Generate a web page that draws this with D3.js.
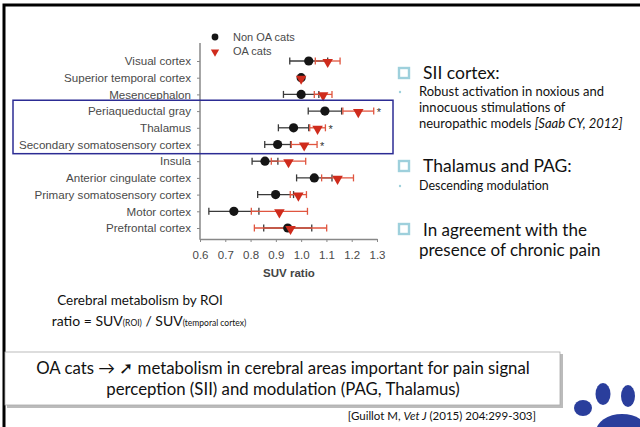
<!DOCTYPE html>
<html>
<head>
<meta charset="utf-8">
<script src="https://cdn.jsdelivr.net/npm/d3@7"></script>
<style>
  body { margin: 0; background: #fff; }
  svg { display: block; }
  .slide { font-family: Lato, "Open Sans", sans-serif; fill: #111; }
  .axis text { font-family: "Liberation Sans", Arial, sans-serif; fill: #4a4a4a; }
  .axis path, .axis line { stroke: #888; }
</style>
</head>
<body>
<svg id="chart" width="640" height="427"></svg>
<script>
// brain regions, top to bottom
const regions = [
  "Visual cortex", "Superior temporal cortex", "Mesencephalon",
  "Periaqueductal gray", "Thalamus", "Secondary somatosensory cortex",
  "Insula", "Anterior cingulate cortex", "Primary somatosensory cortex",
  "Motor cortex", "Prefrontal cortex"
];
const nonOAMean = [1.03, 1.00, 1.00, 1.094, 0.97, 0.907, 0.857, 1.052, 0.899, 0.734, 0.947];
const nonOAErr  = [0.075, 0, 0.07, 0.066, 0.06, 0.051, 0.051, 0.07, 0.071, 0.099, 0.095];
const oaMean    = [1.105, 1.00, 1.087, 1.226, 1.065, 1.012, 0.95, 1.144, 0.989, 0.914, 0.958];
const oaErr     = [0.049, 0, 0.035, 0.061, 0.031, 0.051, 0.068, 0.063, 0.032, 0.111, 0.143];
const significant = ["Periaqueductal gray", "Thalamus", "Secondary somatosensory cortex"];
const xTicks = [0.6, 0.7, 0.8, 0.9, 1.0, 1.1, 1.2, 1.3];
const seriesNames = ["Non OA cats", "OA cats"];

const svg = d3.select("#chart");

// slide frame
svg.append("path")
  .attr("d", "M4,427 V5 H640")
  .attr("fill", "none")
  .attr("stroke", "#000")
  .attr("stroke-width", 3);

const x = d3.scaleLinear().domain([0.6, 1.3]).range([200, 377]);
const y = d3.scalePoint().domain(regions).range([61, 228]);

const black = "#151515";
const blackBar = "#3a3a3a";
const red = "#cf2b1c";
const redBar = "#e0553f";

// axes
const xAxis = svg.append("g")
  .attr("class", "axis")
  .attr("transform", "translate(0,239)")
  .call(d3.axisBottom(x).tickValues(xTicks).tickFormat(d3.format(".1f")).tickSize(3).tickPadding(9).tickSizeOuter(0));
xAxis.selectAll("text").style("font-size", "11.5px");
xAxis.select(".domain").attr("stroke-width", 1.5);

const yAxis = svg.append("g")
  .attr("class", "axis")
  .attr("transform", "translate(200,0)")
  .call(d3.axisLeft(y).tickSize(3).tickPadding(6));
yAxis.select(".domain").remove();
yAxis.selectAll("text").style("font-size", "11.6px");
svg.append("line")
  .attr("x1", 200).attr("x2", 200)
  .attr("y1", 43).attr("y2", 239.75)
  .attr("stroke", "#888").attr("stroke-width", 1.5);

svg.append("text")
  .attr("x", 289).attr("y", 277)
  .attr("text-anchor", "middle")
  .style("font-family", "'Liberation Sans', Arial, sans-serif")
  .style("font-size", "11.5px")
  .style("font-weight", "bold")
  .style("fill", "#444")
  .text("SUV ratio");

// error bars
const rows = regions.map((r, i) => ({
  region: r,
  m0: nonOAMean[i], e0: nonOAErr[i],
  m1: oaMean[i], e1: oaErr[i]
}));

function drawBars(key, color) {
  const g = svg.append("g").attr("stroke", color).attr("stroke-width", 1.3);
  rows.filter(d => d["e" + key] > 0).forEach(d => {
    const lo = x(d["m" + key] - d["e" + key]);
    const hi = x(d["m" + key] + d["e" + key]);
    const yy = y(d.region);
    g.append("line").attr("x1", lo).attr("x2", hi).attr("y1", yy).attr("y2", yy);
    g.append("line").attr("x1", lo).attr("x2", lo).attr("y1", yy - 3.5).attr("y2", yy + 3.5);
    g.append("line").attr("x1", hi).attr("x2", hi).attr("y1", yy - 3.5).attr("y2", yy + 3.5);
  });
}
drawBars(0, blackBar);
drawBars(1, redBar);

svg.append("g").selectAll("circle")
  .data(rows)
  .join("circle")
  .attr("cx", d => x(d.m0))
  .attr("cy", d => y(d.region))
  .attr("r", 4.6)
  .attr("fill", black);

const tri = d3.symbol().type(d3.symbolTriangle).size(48);
svg.append("g").selectAll("path")
  .data(rows)
  .join("path")
  .attr("d", tri)
  .attr("transform", d => `translate(${x(d.m1)},${y(d.region) + 1}) rotate(180)`)
  .attr("fill", red);

// significance stars
svg.append("g").selectAll("text")
  .data(rows.filter(d => significant.includes(d.region)))
  .join("text")
  .attr("x", d => x(Math.max(d.m0 + d.e0, d.m1 + d.e1)) + 3)
  .attr("y", d => y(d.region) + 5)
  .style("font-family", "'Liberation Sans', Arial, sans-serif")
  .style("font-size", "11px")
  .style("fill", "#333")
  .text("*");

// legend
const legend = svg.append("g");
legend.append("circle").attr("cx", 215).attr("cy", 37).attr("r", 3.4).attr("fill", black);
legend.append("path").attr("d", d3.symbol().type(d3.symbolTriangle).size(30))
  .attr("transform", "translate(215,52) rotate(180)").attr("fill", red);
legend.selectAll("text")
  .data(seriesNames)
  .join("text")
  .attr("x", 233)
  .attr("y", (d, i) => 41 + i * 14)
  .style("font-family", "'Liberation Sans', Arial, sans-serif")
  .style("font-size", "11px")
  .style("fill", "#4a4a4a")
  .text(d => d);

// highlight box around significant regions
const step = y.step();
svg.append("rect")
  .attr("x", 13)
  .attr("y", y(significant[0]) - step * 0.65)
  .attr("width", 380)
  .attr("height", y(significant[2]) - y(significant[0]) + step * 1.2)
  .attr("fill", "none")
  .attr("stroke", "#2c2c94")
  .attr("stroke-width", 1.5);

// right-hand notes
const notes = svg.append("g").attr("class", "slide");
function checkbox(cx, cy) {
  notes.append("rect")
    .attr("x", cx).attr("y", cy).attr("width", 10).attr("height", 10)
    .attr("fill", "none").attr("stroke", "#9ed0dc").attr("stroke-width", 2.4);
}
function dot(cx, cy) {
  notes.append("circle").attr("cx", cx).attr("cy", cy).attr("r", 1.2).attr("fill", "#9ed0dc");
}
checkbox(399, 68);
notes.append("text").attr("x", 423).attr("y", 79).style("font-size", "17.5px").text("SII cortex:");
dot(400, 92);
notes.append("text").attr("x", 419).attr("y", 96).style("font-size", "13px").text("Robust activation in noxious and");
notes.append("text").attr("x", 419).attr("y", 112).style("font-size", "13px").text("innocuous stimulations of");
const t3 = notes.append("text").attr("x", 419).attr("y", 128).style("font-size", "13px");
t3.append("tspan").text("neuropathic models ");
t3.append("tspan").style("font-style", "italic").text("[Saab CY, 2012]");

checkbox(399, 161);
notes.append("text").attr("x", 423).attr("y", 172).style("font-size", "17.5px").text("Thalamus and PAG:");
dot(400, 186);
notes.append("text").attr("x", 419).attr("y", 190).style("font-size", "12.5px").text("Descending modulation");

checkbox(399, 224);
notes.append("text").attr("x", 423).attr("y", 236).style("font-size", "17px").text("In agreement with the");
notes.append("text").attr("x", 419).attr("y", 256).style("font-size", "17px").text("presence of chronic pain");

// caption under the chart
const cap = svg.append("g").attr("class", "slide");
cap.append("text").attr("x", 140).attr("y", 305).attr("text-anchor", "middle")
  .style("font-size", "13.5px").text("Cerebral metabolism by ROI");
const r = cap.append("text").attr("x", 149).attr("y", 326).attr("text-anchor", "middle").style("font-size", "14px");
r.append("tspan").text("ratio = SUV");
r.append("tspan").style("font-size", "8.5px").text("(ROI)");
r.append("tspan").text(" / SUV");
r.append("tspan").style("font-size", "8.5px").text("(temporal cortex)");

// paw print
const paw = svg.append("g").attr("fill", "#2a3e9c");
paw.append("ellipse").attr("cx", 583).attr("cy", 408).attr("rx", 9).attr("ry", 8);
paw.append("ellipse").attr("cx", 603).attr("cy", 394).attr("rx", 7.5).attr("ry", 11);
paw.append("ellipse").attr("cx", 628).attr("cy", 396).attr("rx", 7).attr("ry", 11);
paw.append("ellipse").attr("cx", 622).attr("cy", 432).attr("rx", 26).attr("ry", 18);

// conclusion box
const box = svg.append("g").attr("class", "slide");
box.append("rect").attr("x", 7).attr("y", 354).attr("width", 556).attr("height", 54).attr("fill", "#bbb");
box.append("rect").attr("x", 5).attr("y", 352).attr("width", 555).attr("height", 53)
  .attr("fill", "#fff").attr("stroke", "#aaa").attr("stroke-width", 0.8);
box.append("text").attr("x", 283).attr("y", 374).attr("text-anchor", "middle")
  .style("font-size", "16.8px").text("OA cats \u2192 \u279A metabolism in cerebral areas important for pain signal");
box.append("text").attr("x", 283).attr("y", 395).attr("text-anchor", "middle")
  .style("font-size", "16.8px").text("perception (SII) and modulation (PAG, Thalamus)");

const cite = svg.append("text").attr("class", "slide")
  .attr("x", 536).attr("y", 420).attr("text-anchor", "end").style("font-size", "11.5px");
cite.append("tspan").text("[Guillot M, ");
cite.append("tspan").style("font-style", "italic").text("Vet J");
cite.append("tspan").text(" (2015) 204:299-303]");
</script>
</body>
</html>
